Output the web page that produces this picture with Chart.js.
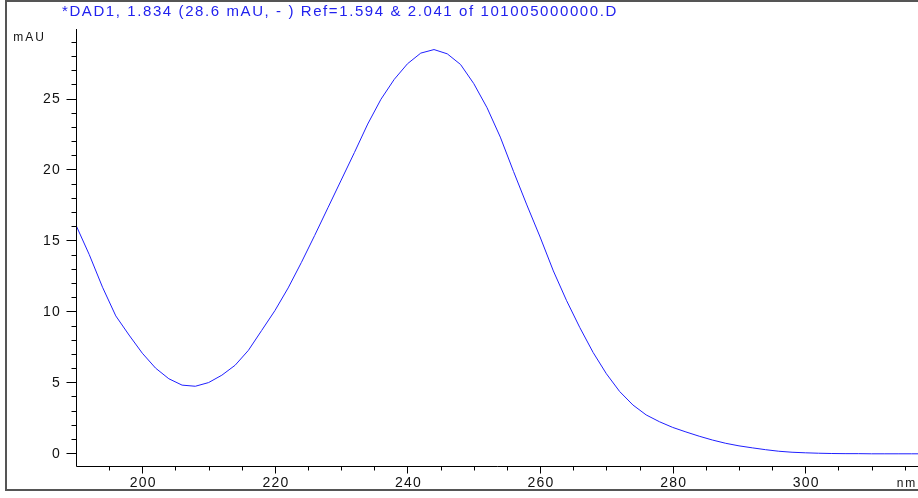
<!DOCTYPE html>
<html>
<head>
<meta charset="UTF-8">
<title>DAD1 spectrum</title>
<style>
    body { margin: 0; background: #fff; }
    canvas { display: block; }
</style>
</head>
<body>
<canvas id="spectrum" width="918" height="498"></canvas>
<script src="https://cdn.jsdelivr.net/npm/chart.js"></script>
<script>
// wavelength (nm) and absorbance (mAU)
var wavelengths = [190, 192, 194, 196, 198, 200, 202, 204, 206, 208, 210, 212, 214, 216, 218, 220,
    222, 224, 226, 228, 230, 232, 234, 236, 238, 240, 242, 244, 246, 248, 250, 252, 254, 256, 258,
    260, 262, 264, 266, 268, 270, 272, 274, 276, 278, 280, 282, 284, 286, 288, 290, 292, 294, 296,
    298, 300, 302, 304, 306, 308, 310, 312, 314, 316, 318];
var absorbance = [16.07, 14.0, 11.7, 9.68, 8.33, 7.05, 6.0, 5.25, 4.8, 4.72, 4.98, 5.5, 6.2, 7.25, 8.65, 10.05,
    11.65, 13.45, 15.35, 17.3, 19.25, 21.2, 23.2, 24.95, 26.35, 27.45, 28.2, 28.45, 28.15, 27.4, 26.05, 24.35, 22.28, 19.85, 17.5,
    15.24, 12.85, 10.75, 8.85, 7.1, 5.6, 4.35, 3.4, 2.7, 2.22, 1.82, 1.5, 1.2, 0.93, 0.7, 0.52, 0.38, 0.25, 0.14,
    0.07, 0.03, 0.0, -0.02, -0.03, -0.03, -0.04, -0.04, -0.04, -0.04, -0.04];
var yTickLabels = [0, 5, 10, 15, 20, 25];
var xTickLabels = [200, 220, 240, 260, 280, 300];
var titleText = '*DAD1, 1.834 (28.6 mAU, - ) Ref=1.594 & 2.041 of 101005000000.D';

var points = wavelengths.map(function (w, i) { return { x: w, y: absorbance[i] }; });

// Рамка, оси, засечки и подписи в стиле ChemStation
var axesPlugin = {
    id: 'axesPlugin',
    afterDraw: function (chart) {
        var ctx = chart.ctx;
        var xs = chart.scales.x, ys = chart.scales.y;
        var area = chart.chartArea;
        ctx.save();

        // outer frame
        ctx.strokeStyle = '#555';
        ctx.lineWidth = 2;
        ctx.beginPath();
        ctx.moveTo(918, 1); ctx.lineTo(6, 1); ctx.lineTo(6, 490); ctx.lineTo(918, 490);
        ctx.stroke();

        // axes lines
        ctx.strokeStyle = '#000';
        ctx.lineWidth = 1;
        ctx.beginPath();
        ctx.moveTo(76.5, area.top); ctx.lineTo(76.5, area.bottom + 0.5);
        ctx.lineTo(918, area.bottom + 0.5);
        ctx.stroke();

        // y ticks
        ctx.beginPath();
        for (var v = 0; v <= 29; v++) {
            var py = Math.round(ys.getPixelForValue(v)) + 0.5;
            var len = (v % 5 === 0) ? 10 : 5;
            ctx.moveTo(76.5 - len, py); ctx.lineTo(76.5, py);
        }
        // x ticks
        for (var w = 195; w <= 315; w += 5) {
            var px = Math.round(xs.getPixelForValue(w)) + 0.5;
            var l = (w % 20 === 0) ? 7 : 4;
            ctx.moveTo(px, area.bottom + 0.5); ctx.lineTo(px, area.bottom + 0.5 + l);
        }
        ctx.stroke();

        ctx.fillStyle = '#111';
        ctx.font = '14px "Liberation Sans", Arial, sans-serif';
        ctx.letterSpacing = '1.2px';
        ctx.textBaseline = 'middle';
        ctx.textAlign = 'right';
        yTickLabels.forEach(function (t) {
            ctx.fillText(String(t), 61, ys.getPixelForValue(t) + 1);
        });
        ctx.textAlign = 'center';
        xTickLabels.forEach(function (t) {
            ctx.fillText(String(t), xs.getPixelForValue(t) + 1, 483);
        });
        ctx.font = '12px "Liberation Sans", Arial, sans-serif';
        ctx.letterSpacing = '2px';
        ctx.fillText('nm', 907, 484);
        ctx.textAlign = 'right';
        ctx.fillText('mAU', 46, 38);

        // title
        ctx.fillStyle = '#2222ee';
        ctx.font = '15px "Liberation Sans", Arial, sans-serif';
        ctx.letterSpacing = '0px';
        var wNat = ctx.measureText(titleText).width;
        ctx.letterSpacing = ((556 - wNat) / titleText.length).toFixed(2) + 'px';
        ctx.textAlign = 'left';
        ctx.fillText(titleText, 62, 12);

        ctx.restore();
    }
};

var chart = new Chart(document.getElementById('spectrum').getContext('2d'), {
    type: 'line',
    data: {
        datasets: [{
            data: points,
            borderColor: '#1f1fff',
            borderWidth: 1,
            pointRadius: 0,
            tension: 0,
            fill: false
        }]
    },
    options: {
        responsive: false,
        animation: false,
        layout: { padding: { left: 76, right: 0, top: 29, bottom: 32 } },
        plugins: {
            legend: { display: false },
            tooltip: { enabled: false }
        },
        scales: {
            x: { type: 'linear', min: 190, max: 317, display: false },
            y: { type: 'linear', min: -0.9, max: 29.9, display: false }
        }
    },
    plugins: [axesPlugin]
});
</script>
</body>
</html>
